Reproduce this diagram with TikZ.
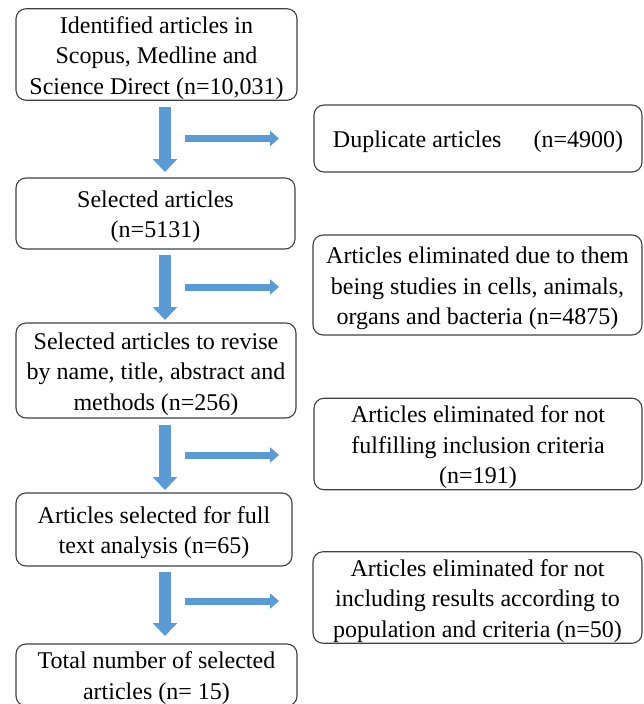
\documentclass[tikz,border=0pt]{standalone}
\usepackage{fontspec}
\setmainfont{Liberation Serif}
\usetikzlibrary{arrows.meta}
\definecolor{boxline}{HTML}{404040}
\definecolor{arrowblue}{HTML}{5B9BD5}
\newcommand\boxtext[1]{\raisebox{0pt}[\dimexpr\height+3pt\relax][\dimexpr\depth-3pt\relax]{\begin{tabular}{@{}c@{}}#1\end{tabular}}}
\tikzset{
  box/.style={draw=boxline, line width=1.1pt, rounded corners=10pt,
    inner sep=0pt, font=\fontsize{24}{30.5}\selectfont, text=black},
  downarrow/.style={arrowblue, line width=12pt, -{Triangle[width=24pt,length=13pt]}},
  rightarrow/.style={arrowblue, line width=7pt, -{Triangle[width=15pt,length=9pt]}}
}
\begin{document}
\begin{tikzpicture}[x=1pt,y=-1pt]
\useasboundingbox (0,0) rectangle (644,704);
\clip (0,0) rectangle (644,704);
% left column
\node[box, minimum width=281pt, minimum height=91pt] (b1) at (156.5,54.5)
  {\boxtext{Identified articles in\\Scopus, Medline and\\Science Direct (n=10,031)}};
\node[box, minimum width=279pt, minimum height=71pt] (b2) at (155.5,213.5)
  {\boxtext{Selected articles\\(n=5131)}};
\node[box, minimum width=280pt, minimum height=95pt] (b3) at (156,370.5)
  {\boxtext{Selected articles to revise\\by name, title, abstract and\\methods (n=256)}};
\node[box, minimum width=276pt, minimum height=73pt] (b4) at (154,529.5)
  {\boxtext{Articles selected for full\\text analysis (n=65)}};
\node[box, minimum width=281pt, minimum height=62pt] (b5) at (156.5,675)
  {\boxtext{Total number of selected\\articles (n= 15)}};
% right column
\node[box, minimum width=328pt, minimum height=67pt] (r1) at (478,138.5)
  {\boxtext{Duplicate articles\hspace{32pt}(n=4900)}};
\node[box, minimum width=329pt, minimum height=100pt] (r2) at (477.5,285)
  {\boxtext{Articles eliminated due to them\\being studies in cells, animals,\\organs and bacteria (n=4875)}};
\node[box, minimum width=328pt, minimum height=88pt] (r3) at (478,444)
  {\boxtext{Articles eliminated for not\\fulfilling inclusion criteria\\(n=191)}};
\node[box, minimum width=329pt, minimum height=91pt] (r4) at (477.5,597.5)
  {\boxtext{Articles eliminated for not\\including results according to\\population and criteria (n=50)}};
% arrow end points
\coordinate (d1s) at (165,107); \coordinate (d1e) at (165,172);
\coordinate (d2s) at (165,255); \coordinate (d2e) at (165,320);
\coordinate (d3s) at (165,425); \coordinate (d3e) at (165,490);
\coordinate (d4s) at (165,572); \coordinate (d4e) at (165,636);
\coordinate (h1s) at (185,138.5); \coordinate (h1e) at (279,138.5);
\coordinate (h2s) at (185,287); \coordinate (h2e) at (279,287);
\coordinate (h3s) at (185,455); \coordinate (h3e) at (279,455);
\coordinate (h4s) at (185,601); \coordinate (h4e) at (279,601);
\draw[downarrow] (d1s) -- (d1e);
\draw[downarrow] (d2s) -- (d2e);
\draw[downarrow] (d3s) -- (d3e);
\draw[downarrow] (d4s) -- (d4e);
\draw[rightarrow] (h1s) -- (h1e);
\draw[rightarrow] (h2s) -- (h2e);
\draw[rightarrow] (h3s) -- (h3e);
\draw[rightarrow] (h4s) -- (h4e);
\end{tikzpicture}
\end{document}
